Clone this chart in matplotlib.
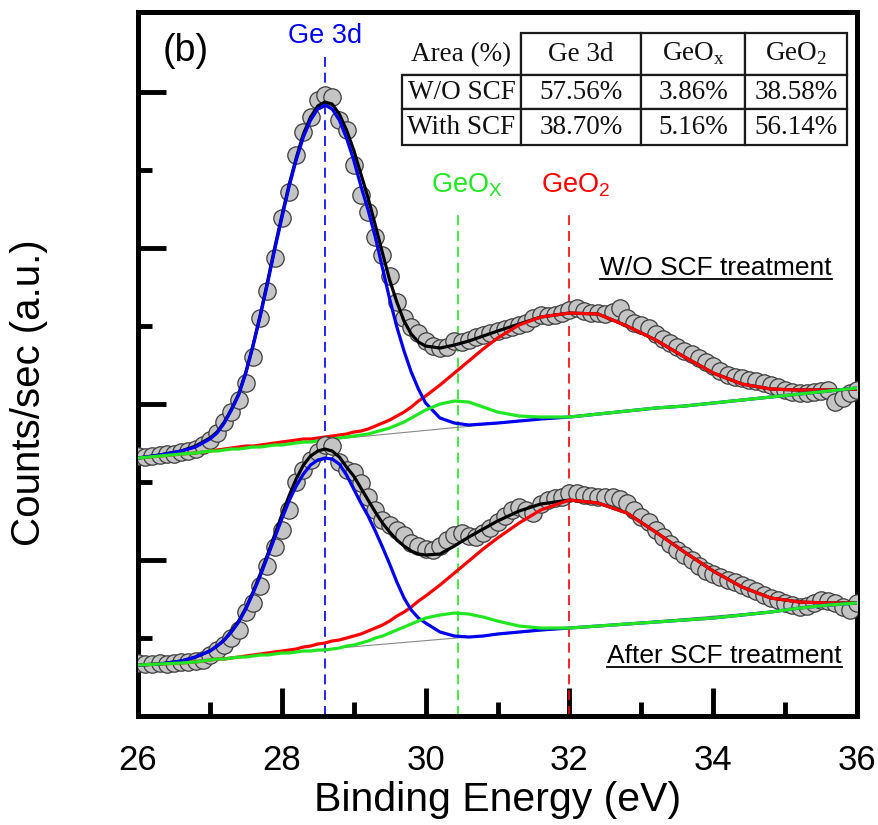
import matplotlib.pyplot as plt
import numpy as np

plt.rcParams['font.family'] = ['Liberation Sans', 'DejaVu Sans']

# measured spectra (0.1 eV steps, 26 -> 36 eV), counts in a.u.
energy = np.linspace(26, 36, 101)

counts_wo = [260, 259, 260, 261, 262, 262, 264, 265, 267, 271,
             276, 283, 294, 304, 316, 333, 359, 398, 425, 458,
             498, 524, 561, 584, 599, 616, 621, 619, 596, 586,
             551, 521, 504, 479, 461, 440, 414, 398, 389, 383,
             375, 370, 368, 369, 375, 374, 376, 379, 381, 383,
             385, 387, 389, 391, 393, 398, 401, 400, 401, 403,
             406, 408, 405, 403, 403, 402, 404, 408, 398, 393,
             391, 388, 382, 377, 373, 369, 365, 362, 358, 354,
             350, 345, 341, 339, 338, 336, 335, 333, 331, 329,
             326, 324, 323, 323, 324, 325, 326, 314, 318, 323,
             326]

counts_with = [53, 52, 52, 53, 52, 53, 54, 54, 55, 56,
               61, 66, 71, 78, 86, 104, 113, 130, 150, 169,
               186, 206, 234, 246, 256, 264, 271, 270, 254, 246,
               244, 233, 219, 206, 196, 191, 186, 181, 173, 170,
               167, 166, 170, 176, 181, 183, 180, 179, 183, 188,
               194, 200, 206, 209, 206, 203, 212, 216, 218, 219,
               223, 223, 221, 220, 219, 219, 219, 217, 213, 206,
               199, 194, 186, 179, 172, 166, 161, 156, 150, 145,
               142, 139, 136, 134, 131, 128, 125, 121, 118, 116,
               113, 111, 109, 110, 113, 116, 115, 113, 109, 106,
               113]

# fitted curves (component + background)
energy_fit = [26.0, 26.3, 26.6, 26.8,
              27.0, 27.1, 27.2, 27.3, 27.4, 27.5, 27.6, 27.7, 27.8, 27.9,
              28.0, 28.1, 28.2, 28.3, 28.4, 28.5, 28.6, 28.7, 28.8, 28.9,
              29.0, 29.1, 29.2, 29.3, 29.4, 29.5, 29.6, 29.7, 29.8, 29.9,
              30.0,
              30.2, 30.4, 30.6, 30.8, 31.0, 31.3, 31.6, 32.0,
              32.4, 32.8, 33.2, 33.6, 34.0, 34.4, 34.8, 35.2, 35.6, 36.0]

wo_ge3d = [258, 261, 265, 269,
           277, 283, 293, 306, 321, 343, 370, 400, 432, 466,
           498, 529, 556, 579, 596, 607, 611, 607, 596, 578,
           556, 530, 506, 479, 448, 417, 389, 365, 344, 327,
           313,
           298, 293, 291, 292, 293, 295, 297, 299,
           302, 305, 308, 310, 313, 316, 319, 322, 325, 328]
wo_envelope = [258, 261, 265, 270,
               278, 284, 294, 307, 322, 344, 371, 401, 434, 468,
               500, 531, 558, 582, 599, 610, 614, 612, 602, 586,
               566, 542, 518, 491, 463, 436, 414, 395, 382, 374,
               370,
               368, 371, 375, 380, 385, 392, 399, 403,
               402, 390, 376, 359, 343, 332, 327, 326, 326, 327]
wo_geo2 = [258, 260, 262, 263,
           265, 266, 267, 268, 269, 270, 270, 271, 272, 273,
           274, 275, 276, 277, 277, 278, 279, 280, 281, 282,
           284, 285, 287, 290, 293, 296, 300, 304, 309, 315,
           320,
           331, 343, 355, 367, 378, 391, 399, 403,
           402, 390, 376, 359, 343, 332, 327, 326, 326, 327]
wo_geox = [258, 260, 262, 263,
           265, 265, 266, 267, 267, 268, 269, 269, 270, 271,
           271, 272, 273, 274, 274, 275, 276, 277, 278, 279,
           280, 281, 282, 284, 286, 288, 291, 294, 298, 302,
           306,
           312, 315, 314, 309, 304, 300, 299, 299,
           302, 305, 308, 310, 313, 316, 319, 322, 325, 328]

with_ge3d = [51, 52, 55, 59,
             65, 70, 76, 84, 94, 107, 123, 140, 159, 178,
             197, 215, 230, 242, 251, 256, 258, 257, 252, 241,
             227, 213, 200, 185, 169, 152, 134, 118, 106, 98,
             93,
             84, 80, 79, 80, 82, 84, 86, 88,
             90, 92, 94, 96, 98, 101, 104, 108, 111, 113]
with_envelope = [51, 52, 55, 59,
                 65, 70, 76, 85, 95, 108, 124, 142, 161, 181,
                 201, 220, 237, 251, 260, 265, 267, 265, 259, 249,
                 240, 228, 216, 204, 193, 184, 176, 170, 165, 162,
                 161,
                 162, 170, 179, 187, 195, 205, 212, 216,
                 213, 203, 184, 164, 145, 129, 118, 114, 113, 113]
with_geo2 = [51, 52, 53, 54,
             56, 57, 57, 58, 59, 60, 61, 62, 63, 64,
             65, 66, 67, 69, 70, 72, 73, 75, 76, 78,
             80, 82, 85, 88, 91, 95, 100, 104, 109, 115,
             120,
             131, 143, 155, 167, 178, 193, 206, 216,
             213, 203, 184, 164, 145, 129, 118, 114, 113, 113]
with_geox = [51, 52, 53, 54,
             56, 57, 57, 58, 59, 59, 60, 61, 61, 62,
             63, 63, 64, 65, 65, 66, 66, 67, 68, 70,
             71, 73, 75, 78, 80, 83, 86, 89, 92, 95,
             98,
             101, 103, 102, 99, 95, 90, 88, 88,
             90, 92, 94, 96, 98, 101, 104, 108, 111, 113]

bg_energy = [26, 36]
wo_bg = [258, 327]
with_bg = [51, 112]

# peak positions (eV)
peak_names = ['Ge 3d', 'GeO$_\\mathregular{X}$', 'GeO$_\\mathregular{2}$']
peak_pos = [28.6, 30.45, 32.0]

# area table
table_head = ['Area (%)', 'Ge 3d', 'GeO$_\\mathregular{x}$', 'GeO$_\\mathregular{2}$']
table_rows = ['W/O SCF', 'With SCF']
area_wo = ['57.56%', '3.86%', '38.58%']
area_with = ['38.70%', '5.16%', '56.14%']

BLUE = '#0000f0'
RED = '#ff0000'
GREEN = '#22e622'

fig = plt.figure(figsize=(8.79, 8.25), dpi=100)
ax = fig.add_axes([0.157, 0.1321, 0.818, 0.8533])


def draw_spectrum(counts, ge3d, geox, geo2, env, bg, z):
    ax.plot(energy, counts, 'o', ms=12.5, mfc='#c4c4c4', mec='#3c3c3c',
            mew=0.9, zorder=z)
    ax.plot(bg_energy, bg, color='#888888', lw=0.8, zorder=z + 0.1)
    ax.plot(energy_fit, env, color='k', lw=2.3, zorder=z + 0.2)
    ax.plot(energy_fit, geo2, color=RED, lw=2.3, zorder=z + 0.3)
    ax.plot(energy_fit, ge3d, color=BLUE, lw=2.3, zorder=z + 0.4)
    ax.plot(energy_fit, geox, color=GREEN, lw=2.3, zorder=z + 0.5)


draw_spectrum(counts_wo, wo_ge3d, wo_geox, wo_geo2, wo_envelope, wo_bg, 3)
draw_spectrum(counts_with, with_ge3d, with_geox, with_geo2, with_envelope, with_bg, 4)

# dashed peak markers and their labels
ymax_line = [0.936, 0.719, 0.719]
label_y = [680, 531, 531]
label_dx = [0, 0.12, 0.08]
for name, pos, col, ym, ly, dx in zip(peak_names, peak_pos, [BLUE, GREEN, RED],
                                      ymax_line, label_y, label_dx):
    ln = ax.axvline(pos, ymin=0, ymax=ym, color=col, lw=1.2, ls='--', zorder=2)
    ln.set_dashes([6, 3.5])
    ax.text(pos + dx, ly, name, color=col, fontsize=19.5, ha='center', va='center')

ax.text(26.67, 665, '(b)', fontsize=27, ha='center', va='center')

t1 = ax.text(34.04, 441, 'W/O SCF treatment', fontsize=19, ha='center', va='baseline')
t2 = ax.text(34.16, 53, 'After SCF treatment', fontsize=19, ha='center', va='baseline')

# table
col_w = [119.3, 120, 104, 102]
row_h = [41.7, 34.3, 35.7]
tbl = ax.table(cellText=[table_head, [table_rows[0]] + area_wo, [table_rows[1]] + area_with],
               cellLoc='center', bbox=[0.3668, 0.8111, 0.6193, 0.1587], zorder=6)
tbl.auto_set_font_size(False)
for (r, c), cell in tbl.get_celld().items():
    cell.set_width(col_w[c])
    cell.set_height(row_h[r])
    cell.set_linewidth(1.6)
    cell.set_edgecolor('#1a1a1a')
    cell.set_facecolor('white')
    cell.get_text().set_fontsize(19.5)
    cell.get_text().set_fontfamily('Liberation Serif')
    cell.get_text().set_color('#111111')
tbl[0, 0].visible_edges = 'BR'

# axes styling
ax.set_xlim(26, 36)
ax.set_ylim(0, 704)
ax.set_xticks([26, 28, 30, 32, 34, 36])
ax.set_xticks([27, 29, 31, 33, 35], minor=True)
ax.set_yticks([0, 156, 312, 468, 624])
ax.set_yticks([78, 234, 390, 546], minor=True)
ax.set_yticklabels([])
ax.tick_params(which='both', direction='in', top=False, right=False, width=3.5)
ax.tick_params(which='major', length=20, labelsize=25, pad=20)
ax.tick_params(which='minor', length=10)
for sp in ax.spines.values():
    sp.set_linewidth(3.6)

ax.set_xlabel('Binding Energy (eV)', fontsize=29.5)
ax.set_ylabel('Counts/sec (a.u.)', fontsize=29)
ax.xaxis.set_label_coords(0.5, -0.093)
ax.yaxis.set_label_coords(-0.125, 0.46)

# underline the two sample labels
fig.canvas.draw()
inv = ax.transData.inverted()
for t, uy in ((t1, 437), (t2, 49)):
    bb = t.get_window_extent()
    x0 = inv.transform((bb.x0, bb.y0))[0]
    x1 = inv.transform((bb.x1, bb.y0))[0]
    ax.plot([x0, x1], [uy, uy], color='k', lw=1.3, zorder=5)

fig.savefig('out.png', dpi=100)
